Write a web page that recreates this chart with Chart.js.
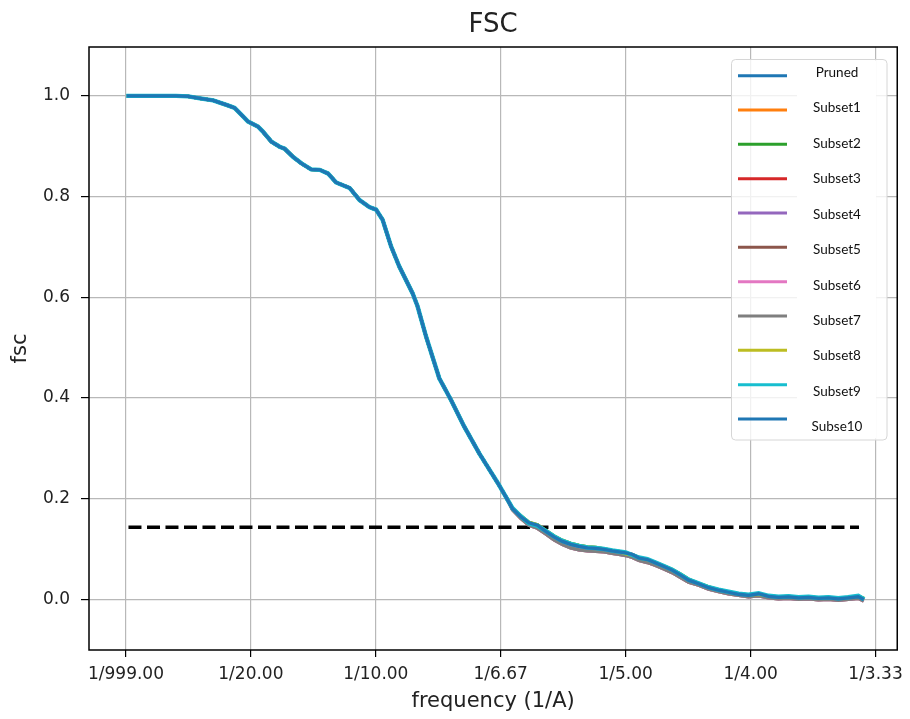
<!DOCTYPE html>
<html lang="en">
<head>
    <meta charset="UTF-8">
    <title>FSC</title>
    <style>
        body {
            margin: 0;
            background: #fff;
        }
    </style>
    <script src="https://cdn.jsdelivr.net/npm/chart.js"></script>
</head>
<body>
    <canvas id="fscChart" width="910" height="719"></canvas>

    <script>
        // Low frequencies: all curves lie on top of each other here
        const FREQ_HEAD = [0.001, 0.010, 0.020, 0.0249, 0.0296, 0.0349, 0.0402, 0.0435, 0.0469, 0.0488,
            0.0528, 0.0548, 0.0582, 0.0615, 0.0635, 0.0668, 0.0702, 0.0741, 0.0775, 0.0808,
            0.0841, 0.0895, 0.0935, 0.0974, 0.1001, 0.1027, 0.1061, 0.1094, 0.1147, 0.1167,
            0.1201, 0.1254, 0.1301, 0.1354, 0.1414, 0.1454, 0.1487, 0.1520];
        const FSC_HEAD = [1.000, 1.000, 1.000, 0.999, 0.995, 0.991, 0.982, 0.976, 0.959, 0.949,
            0.939, 0.929, 0.909, 0.899, 0.895, 0.879, 0.866, 0.854, 0.853, 0.846,
            0.828, 0.817, 0.793, 0.779, 0.774, 0.754, 0.701, 0.661, 0.608, 0.582,
            0.522, 0.439, 0.396, 0.343, 0.290, 0.258, 0.232, 0.204];

        // High frequencies: the subsets spread out a little
        const FREQ_TAIL = [0.1547, 0.1580, 0.1613, 0.1647, 0.1680, 0.1713, 0.1747, 0.1780, 0.1813, 0.1847,
            0.1880, 0.1913, 0.1946, 0.1973, 0.2000, 0.2027, 0.2053, 0.2087, 0.2120, 0.2153,
            0.2186, 0.2220, 0.2252, 0.2292, 0.2332, 0.2372, 0.2412, 0.2452, 0.2492, 0.2532,
            0.2572, 0.2612, 0.2652, 0.2692, 0.2732, 0.2772, 0.2812, 0.2851, 0.2891, 0.2931, 0.2947];
        const TAIL_A = [0.180, 0.164, 0.152, 0.147, 0.135, 0.124, 0.115, 0.109, 0.105, 0.102,
            0.101, 0.099, 0.096, 0.094, 0.092, 0.089, 0.082, 0.079, 0.072, 0.065,
            0.058, 0.048, 0.038, 0.031, 0.023, 0.018, 0.014, 0.010, 0.008, 0.011,
            0.006, 0.004, 0.005, 0.003, 0.004, 0.002, 0.003, 0.001, 0.003, 0.005, 0.001];
        const TAIL_B = [0.178, 0.161, 0.147, 0.141, 0.130, 0.118, 0.109, 0.102, 0.098, 0.096,
            0.095, 0.094, 0.091, 0.089, 0.087, 0.083, 0.077, 0.073, 0.067, 0.060,
            0.053, 0.043, 0.034, 0.028, 0.020, 0.015, 0.011, 0.008, 0.005, 0.007,
            0.003, 0.001, 0.002, 0.000, 0.001, -0.001, 0.000, -0.002, 0.000, 0.002, -0.002];
        const TAIL_C = [0.181, 0.166, 0.153, 0.148, 0.137, 0.126, 0.117, 0.111, 0.107, 0.104,
            0.103, 0.100, 0.097, 0.095, 0.090, 0.088, 0.083, 0.079, 0.073, 0.066,
            0.059, 0.050, 0.040, 0.032, 0.025, 0.019, 0.015, 0.011, 0.009, 0.010,
            0.007, 0.005, 0.006, 0.004, 0.005, 0.003, 0.004, 0.002, 0.004, 0.006, 0.003];
        const TAIL_D = [0.181, 0.165, 0.151, 0.146, 0.136, 0.125, 0.116, 0.110, 0.106, 0.103,
            0.102, 0.100, 0.097, 0.095, 0.093, 0.088, 0.083, 0.080, 0.073, 0.066,
            0.059, 0.049, 0.039, 0.032, 0.024, 0.019, 0.015, 0.011, 0.009, 0.012,
            0.007, 0.005, 0.006, 0.004, 0.005, 0.003, 0.004, 0.002, 0.004, 0.007, 0.002];

        const SERIES = ['Pruned', 'Subset1', 'Subset2', 'Subset3', 'Subset4', 'Subset5',
            'Subset6', 'Subset7', 'Subset8', 'Subset9', 'Subse10'];
        const SERIES_TAIL = [TAIL_A, TAIL_A, TAIL_C, TAIL_A, TAIL_A, TAIL_B,
            TAIL_B, TAIL_B, TAIL_C, TAIL_D, TAIL_A];
        const COLORS = ['#1f77b4', '#ff7f0e', '#2ca02c', '#d62728', '#9467bd', '#8c564b',
            '#e377c2', '#7f7f7f', '#bcbd22', '#17becf', '#1f77b4'];

        // 0.143 threshold line
        const THRESHOLD = 0.143;
        const THRESHOLD_FREQ = [0.001, 0.2934];

        const X_TICKS = [0, 0.05, 0.10, 0.15, 0.20, 0.25, 0.30];
        const Y_TICKS = [0, 0.2, 0.4, 0.6, 0.8, 1.0];

        const TEXT = '#222';
        const FONT = 'DejaVu Sans';

        function curve(tail) {
            const pts = FREQ_HEAD.map((f, i) => ({ x: f, y: FSC_HEAD[i] }));
            FREQ_TAIL.forEach((f, i) => pts.push({ x: f, y: tail[i] }));
            return pts;
        }

        const datasets = SERIES.map((name, i) => ({
            label: name,
            data: curve(SERIES_TAIL[i]),
            borderColor: COLORS[i],
            // the cyan curve is a touch wider so it shows as a fringe under the last one
            borderWidth: name === 'Subset9' ? 4.4 : 3.3,
            borderCapStyle: 'square',
            pointRadius: 0,
            tension: 0,
            order: SERIES.length - i   // later series drawn on top
        }));

        datasets.push({
            label: 'threshold',
            data: THRESHOLD_FREQ.map(f => ({ x: f, y: THRESHOLD })),
            borderColor: '#000',
            borderWidth: 3.5,
            borderDash: [13, 5.5],
            pointRadius: 0,
            order: 20
        });

        // black box round the plot area, and the title centred over it
        const frame = {
            id: 'frame',
            afterDatasetsDraw(chart) {
                const a = chart.chartArea;
                const ctx = chart.ctx;
                ctx.save();
                ctx.strokeStyle = '#000';
                ctx.lineWidth = 1.5;
                ctx.strokeRect(a.left, a.top, a.right - a.left, a.bottom - a.top);
                ctx.fillStyle = TEXT;
                ctx.font = '26px ' + FONT;
                ctx.textAlign = 'center';
                ctx.textBaseline = 'alphabetic';
                ctx.fillText('FSC', (a.left + a.right) / 2, 32);
                ctx.restore();
            }
        };

        // legend drawn inside the axes, upper right
        const innerLegend = {
            id: 'innerLegend',
            afterDraw(chart) {
                const ctx = chart.ctx;
                const x0 = 731.5, y0 = 59.5, w = 155.5, h = 380.5, r = 4;
                ctx.save();
                ctx.beginPath();
                ctx.moveTo(x0 + r, y0);
                ctx.lineTo(x0 + w - r, y0);
                ctx.arcTo(x0 + w, y0, x0 + w, y0 + r, r);
                ctx.lineTo(x0 + w, y0 + h - r);
                ctx.arcTo(x0 + w, y0 + h, x0 + w - r, y0 + h, r);
                ctx.lineTo(x0 + r, y0 + h);
                ctx.arcTo(x0, y0 + h, x0, y0 + h - r, r);
                ctx.lineTo(x0, y0 + r);
                ctx.arcTo(x0, y0, x0 + r, y0, r);
                ctx.closePath();
                ctx.fillStyle = 'rgba(255,255,255,0.8)';
                ctx.fill();
                ctx.strokeStyle = '#d6d6d6';
                ctx.lineWidth = 1;
                ctx.stroke();

                // label column sits on a plain white strip
                ctx.fillStyle = '#fff';
                ctx.fillRect(797, 61, 79, 377);

                ctx.font = '13.5px Lato';
                ctx.textAlign = 'center';
                ctx.textBaseline = 'middle';
                SERIES.forEach((name, i) => {
                    const ly = 75.7 + 34.33 * i;
                    ctx.strokeStyle = COLORS[i];
                    ctx.lineWidth = 3;
                    ctx.beginPath();
                    ctx.moveTo(738, ly);
                    ctx.lineTo(787, ly);
                    ctx.stroke();
                    ctx.fillStyle = '#111';
                    ctx.fillText(name, 837, 72.7 + 35.43 * i);
                });
                ctx.restore();
            }
        };

        const ctx = document.getElementById('fscChart').getContext('2d');

        new Chart(ctx, {
            type: 'line',
            data: { datasets: datasets },
            plugins: [frame, innerLegend],
            options: {
                responsive: false,
                animation: false,
                layout: { padding: { left: 0, right: 11, top: 47, bottom: 0 } },
                plugins: {
                    legend: { display: false },
                    tooltip: { enabled: false },
                    title: { display: false }
                },
                scales: {
                    x: {
                        type: 'linear',
                        min: -0.0148,
                        max: 0.3087,
                        afterBuildTicks: s => { s.ticks = X_TICKS.map(v => ({ value: v })); },
                        afterFit: s => { s.height = 69; },
                        grid: { color: '#b8b8b8', lineWidth: 1.2, tickColor: '#000', tickLength: 7 },
                        border: { display: false },
                        ticks: {
                            color: TEXT,
                            padding: 7,
                            maxRotation: 0,
                            font: { family: FONT, size: 17 },
                            callback: v => v === 0 ? '1/999.00' : '1/' + (1 / v).toFixed(2)
                        },
                        title: {
                            display: true,
                            text: 'frequency (1/A)',
                            color: TEXT,
                            font: { family: FONT, size: 21 },
                            padding: { top: 0, bottom: 5 }
                        }
                    },
                    y: {
                        min: -0.1007,
                        max: 1.097,
                        afterBuildTicks: s => { s.ticks = Y_TICKS.map(v => ({ value: v })); },
                        afterFit: s => { s.width = 89; },
                        grid: { color: '#b8b8b8', lineWidth: 1.2, tickColor: '#000', tickLength: 8 },
                        border: { display: false },
                        ticks: {
                            color: TEXT,
                            padding: 11,
                            font: { family: FONT, size: 17 },
                            callback: v => v.toFixed(1)
                        },
                        title: {
                            display: true,
                            text: 'fsc',
                            color: TEXT,
                            font: { family: FONT, size: 21 },
                            padding: { top: 8, bottom: 0 }
                        }
                    }
                }
            }
        });
    </script>
</body>
</html>
